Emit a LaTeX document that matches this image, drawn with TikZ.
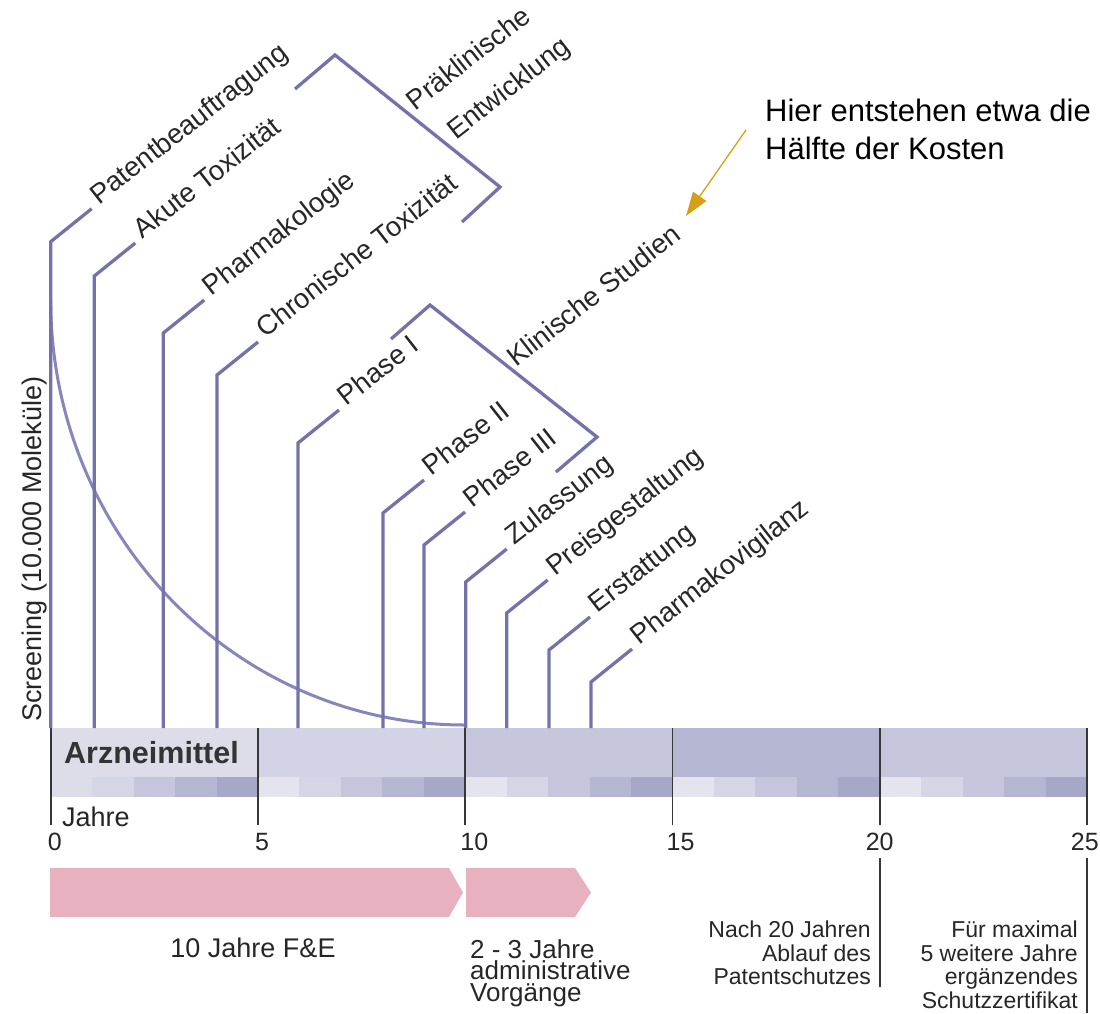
\documentclass[tikz,border=0pt]{standalone}
\usepackage{fontspec}
\setmainfont{Liberation Sans}
\usepackage{xcolor}
\usetikzlibrary{arrows.meta, positioning}
\definecolor{stemblue}{RGB}{115,115,170}
\definecolor{arcblue}{RGB}{134,134,188}
\definecolor{tickgray}{RGB}{55,55,55}
\definecolor{pinkband}{RGB}{232,177,192}
\definecolor{hintgold}{RGB}{212,160,23}
\definecolor{barA}{RGB}{221,221,234}
\definecolor{barB}{RGB}{210,211,228}
\definecolor{barC}{RGB}{197,198,219}
\definecolor{barD}{RGB}{181,182,210}
\definecolor{cellA}{RGB}{228,228,239}
\definecolor{cellB}{RGB}{212,213,229}
\definecolor{cellC}{RGB}{197,198,219}
\definecolor{cellD}{RGB}{181,182,210}
\definecolor{cellE}{RGB}{167,168,200}

\begin{document}
\begin{tikzpicture}[
    x=1pt, y=-1pt,
    stem/.style={line width=3.3pt, color=stemblue},
    curve/.style={line width=3pt, color=arcblue},
    tick/.style={line width=1.8pt, color=tickgray},
    lbl/.style={anchor=base west, rotate=38, inner sep=0pt, xshift=8pt, yshift=-2pt, font=\fontsize{27.5}{32}\selectfont, text=black!85},
    grplbl/.style={anchor=base west, rotate=38, inner sep=0pt, align=left, font=\fontsize{27.5}{48}\selectfont, text=black!85},
    yearlbl/.style={inner sep=0pt, font=\fontsize{25}{30}\selectfont, text=black!85},
    note/.style={inner sep=0pt, align=left, font=\fontsize{31}{37.5}\selectfont, text=black},
    hint/.style={line width=1.3pt, color=hintgold, -{Triangle[length=24pt, width=16pt]}},
    small/.style={inner sep=0pt, font=\fontsize{23}{23.5}\selectfont, text=black!85}
]
\useasboundingbox (0,0) rectangle (1100,1013);

% time bar
\fill[barA] (50.7,728) rectangle (258,777);
\fill[barB] (258,728) rectangle (465,777);
\fill[barC] (465,728) rectangle (673,777);
\fill[barD] (673,728) rectangle (880,777);
\fill[barC] (880,728) rectangle (1088,777);
\foreach \b in {0,...,4}
  \foreach \c/\col in {0/cellA,1/cellB,2/cellC,3/cellD,4/cellE}
    \fill[\col] ({50.7+41.45*(5*\b+\c)},777) rectangle ({50.7+41.45*(5*\b+\c+1)},797);
\fill[barA] (50.7,777) rectangle (92.15,797);

\node[anchor=base west, inner sep=0pt, font=\bfseries\fontsize{30.5}{36}\selectfont, text=black!80] (drug) at (64,763) {Arzneimittel};
\node[anchor=base west, inner sep=0pt, font=\fontsize{27}{32}\selectfont, text=black!85] (yrs) at (62,826) {Jahre};

\foreach \i/\anc/\dx in {0/north west/-3, 5/north west/-3, 10/north west/-5, 15/north west/-6, 20/north/0, 25/north east/12} {
  \draw[tick] ({50.7+41.45*\i},728) -- ({50.7+41.45*\i},825);
  \node[yearlbl, anchor=\anc] (y\i) at ({50.7+41.45*\i+\dx},833) {\i};
}

% screening
\node[rotate=90, anchor=base west, inner sep=0pt, font=\fontsize{27}{32}\selectfont, text=black!85] (scr) at (41.5,722) {Screening (10.000 Moleküle)};
\coordinate (scr-top) at (50.7,300);
\coordinate (scr-end) at (465,725);
\draw[curve] (scr-top) .. controls (50.7,535) and (236,725) .. (scr-end);

% stems with labels
\foreach \x/\y/\n/\t in {
    50.7/241.7/pat/Patentbeauftragung,
    94.3/276/akt/Akute Toxizität,
    163.3/333/pha/Pharmakologie,
    217/375/chr/Chronische Toxizität,
    298/443/ph1/Phase I,
    383/513/ph2/Phase II,
    424/545/ph3/Phase III,
    465.7/582/zul/Zulassung,
    506.7/613/prs/Preisgestaltung,
    549/650/ers/Erstattung,
    591/682/pvg/Pharmakovigilanz} {
  \coordinate (\n-b) at (\x,728);
  \coordinate (\n-e) at ({\x+41},{\y-33});
  \node[lbl] (\n) at (\n-e) {\t};
  \draw[stem] (\n-b) -- (\x,\y) -- (\n-e);
}

% brackets
\draw[stem] (295,89) -- (335,55) -- (500,187) -- (462,222);
\node[grplbl] (pre) at (445,149) {Präklinische\\\hspace*{14pt}Entwicklung};
\draw[stem] (391,339) -- (430,305) -- (597,437) -- (556,472);
\node[grplbl] (kli) at (516,368) {Klinische Studien};

% cost note
\node[note, anchor=north west] (cost) at (765,99) {Hier entstehen etwa die\\Hälfte der Kosten};
\coordinate (cost-tail) at (746,130);
\coordinate (cost-tip) at (686,216);
\draw[hint] (cost-tail) -- (cost-tip);

% phases below
\fill[pinkband] (50,868) -- (449,868) -- (463,892.5) -- (449,917) -- (50,917) -- cycle;
\fill[pinkband] (466,868) -- (575,868) -- (591,892.5) -- (575,917) -- (466,917) -- cycle;
\node[anchor=base, inner sep=0pt, font=\fontsize{27}{30}\selectfont, text=black!85] (rnd) at (253,957) {10 Jahre F\&E};
\node[anchor=north west, inner sep=0pt, align=left, font=\fontsize{26}{21.5}\selectfont, text=black!85] (adm) at (470,939) {2 - 3 Jahre\\administrative\\Vorgänge};

\draw[tick] (880,858) -- (880,987);
\draw[tick] (1087,858) -- (1087,1013);
\node[small, anchor=north east, align=right] (pat20) at (871,921) {Nach 20 Jahren\\Ablauf des\\Patentschutzes};
\node[small, anchor=north east, align=right] (spc) at (1078,921) {Für maximal\\5 weitere Jahre\\ergänzendes\\Schutzzertifikat};
\end{tikzpicture}
\end{document}
